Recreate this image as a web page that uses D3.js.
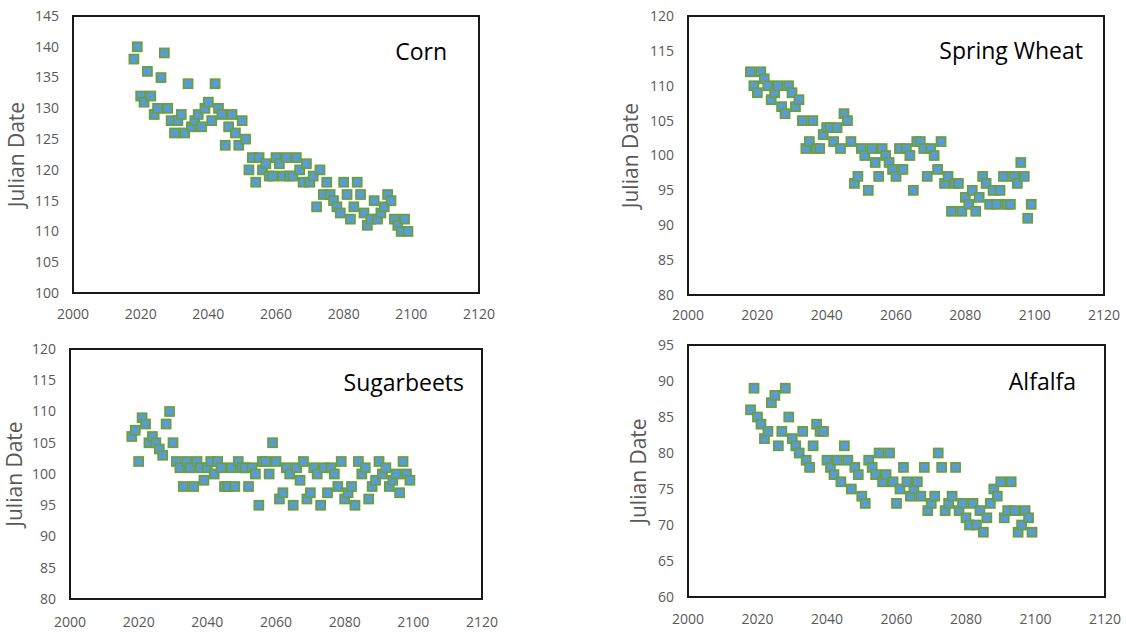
<!DOCTYPE html>
<html>
<head>
<meta charset="utf-8">
<script src="https://cdn.jsdelivr.net/npm/d3@7"></script>
<style>
  body { margin: 0; background: #fff; }
  svg { display: block; }
</style>
</head>
<body>
<svg id="chart" width="1126" height="634"></svg>
<script>
// one value per year, 2018 .. 2099
var years = d3.range(2018, 2100);

var cornDates = [
  138, 140, 132, 131, 136, 132, 129, 130, 135, 139,
  130, 128, 126, 128, 129, 126, 134, 127, 128, 129,
  127, 130, 131, 128, 134, 130, 129, 124, 127, 129,
  126, 124, 128, 125, 120, 122, 118, 122, 120, 121,
  119, 119, 122, 121, 119, 122, 119, 119, 122, 120,
  118, 121, 118, 119, 114, 120, 116, 118, 116, 115,
  114, 113, 118, 116, 112, 114, 118, 116, 113, 111,
  112, 115, 112, 113, 114, 116, 115, 112, 111, 110,
  112, 110
];

var wheatDates = [
  112, 110, 109, 112, 111, 110, 108, 109, 110, 107,
  106, 110, 109, 107, 108, 105, 101, 102, 105, 101,
  101, 103, 104, 104, 102, 104, 101, 106, 105, 102,
  96, 97, 101, 100, 95, 101, 99, 97, 101, 100,
  99, 98, 97, 101, 98, 101, 100, 95, 102, 102,
  101, 97, 101, 100, 98, 102, 96, 97, 92, 96,
  96, 92, 94, 93, 95, 92, 94, 97, 96, 93,
  95, 93, 95, 97, 93, 93, 97, 96, 99, 97,
  91, 93
];

var beetDates = [
  106, 107, 102, 109, 108, 105, 106, 105, 104, 103,
  108, 110, 105, 102, 101, 98, 102, 101, 98, 102,
  101, 99, 101, 102, 100, 102, 101, 98, 98, 101,
  98, 102, 101, 101, 98, 101, 100, 95, 102, 102,
  100, 105, 102, 96, 97, 101, 100, 95, 101, 99,
  102, 96, 97, 101, 100, 95, 101, 97, 101, 100,
  98, 102, 96, 97, 98, 95, 102, 100, 101, 96,
  98, 99, 102, 100, 101, 98, 99, 100, 97, 102,
  100, 99
];

var alfalfaDates = [
  86, 89, 85, 84, 82, 83, 87, 88, 81, 83,
  89, 85, 82, 81, 80, 83, 79, 78, 81, 84,
  83, 83, 79, 78, 77, 79, 76, 81, 79, 75,
  78, 77, 74, 73, 79, 78, 77, 80, 76, 77,
  80, 76, 73, 75, 78, 76, 74, 75, 76, 74,
  78, 72, 73, 74, 80, 78, 72, 73, 74, 78,
  72, 73, 71, 70, 73, 70, 72, 69, 71, 73,
  75, 74, 76, 71, 72, 76, 72, 69, 70, 72,
  71, 69
];

var xTicks = [2000, 2020, 2040, 2060, 2080, 2100, 2120];

var panels = [
  { name: 'Corn', values: cornDates, yMin: 100, yMax: 145 },
  { name: 'Spring Wheat', values: wheatDates, yMin: 80, yMax: 120 },
  { name: 'Sugarbeets', values: beetDates, yMin: 80, yMax: 120 },
  { name: 'Alfalfa', values: alfalfaDates, yMin: 60, yMax: 95 }
];

// plot boxes and text offsets
var boxes = [
  { left: 73, top: 16, right: 479, bottom: 293, titleDx: -32, titleDy: 44, axisDx: -56, tickDy: 26 },
  { left: 688, top: 16, right: 1104, bottom: 295, titleDx: -21, titleDy: 43, axisDx: -57, tickDy: 25 },
  { left: 70, top: 349, right: 482, bottom: 599, titleDx: -18, titleDy: 42, axisDx: -55, tickDy: 28 },
  { left: 688, top: 345, right: 1105, bottom: 597, titleDx: -29, titleDy: 45, axisDx: -49, tickDy: 27 }
];

var font = "'Open Sans', 'Liberation Sans', sans-serif";
var svg = d3.select('#chart');

panels.forEach(function(p, i){
  var b = boxes[i];
  var x = d3.scaleLinear().domain([2000, 2120]).range([b.left, b.right]);
  var y = d3.scaleLinear().domain([p.yMin, p.yMax]).range([b.bottom, b.top]);
  var g = svg.append('g');

  // y tick labels
  g.selectAll('text.ytick')
    .data(d3.range(p.yMin, p.yMax + 1, 5))
    .enter()
    .append('text')
    .attr('class', 'ytick')
    .attr('x', b.left - 14)
    .attr('y', function(d){ return y(d); })
    .attr('dy', '0.35em')
    .attr('text-anchor', 'end')
    .style('font-family', font)
    .style('font-size', '14px')
    .style('fill', '#595959')
    .text(function(d){ return d; });

  // x tick labels
  g.selectAll('text.xtick')
    .data(xTicks)
    .enter()
    .append('text')
    .attr('class', 'xtick')
    .attr('x', function(d){ return x(d); })
    .attr('y', b.bottom + b.tickDy)
    .attr('text-anchor', 'middle')
    .style('font-family', font)
    .style('font-size', '14px')
    .style('fill', '#595959')
    .text(function(d){ return d; });

  // axis title
  var cy = (b.top + b.bottom) / 2;
  g.append('text')
    .attr('transform', 'translate(' + (b.left + b.axisDx) + ',' + cy + ') rotate(-90)')
    .attr('dy', '0.35em')
    .attr('text-anchor', 'middle')
    .style('font-family', font)
    .style('font-size', '21px')
    .style('fill', '#595959')
    .text('Julian Date');

  // plot frame
  g.append('rect')
    .attr('x', b.left)
    .attr('y', b.top)
    .attr('width', b.right - b.left)
    .attr('height', b.bottom - b.top)
    .style('fill', 'none')
    .style('stroke', '#1a1a1a')
    .style('stroke-width', 2);

  // panel name
  g.append('text')
    .attr('x', b.right + b.titleDx)
    .attr('y', b.top + b.titleDy)
    .attr('text-anchor', 'end')
    .style('font-family', font)
    .style('font-size', '23px')
    .style('fill', '#000')
    .text(p.name);

  // square markers
  var s = 9;
  g.selectAll('rect.pt')
    .data(p.values)
    .enter()
    .append('rect')
    .attr('class', 'pt')
    .attr('x', function(d, j){ return x(years[j]) - s / 2; })
    .attr('y', function(d){ return y(d) - s / 2; })
    .attr('width', s)
    .attr('height', s)
    .style('fill', '#5B9BD5')
    .style('stroke', '#6A9F3E')
    .style('stroke-width', 1.75);
});
</script>
</body>
</html>
